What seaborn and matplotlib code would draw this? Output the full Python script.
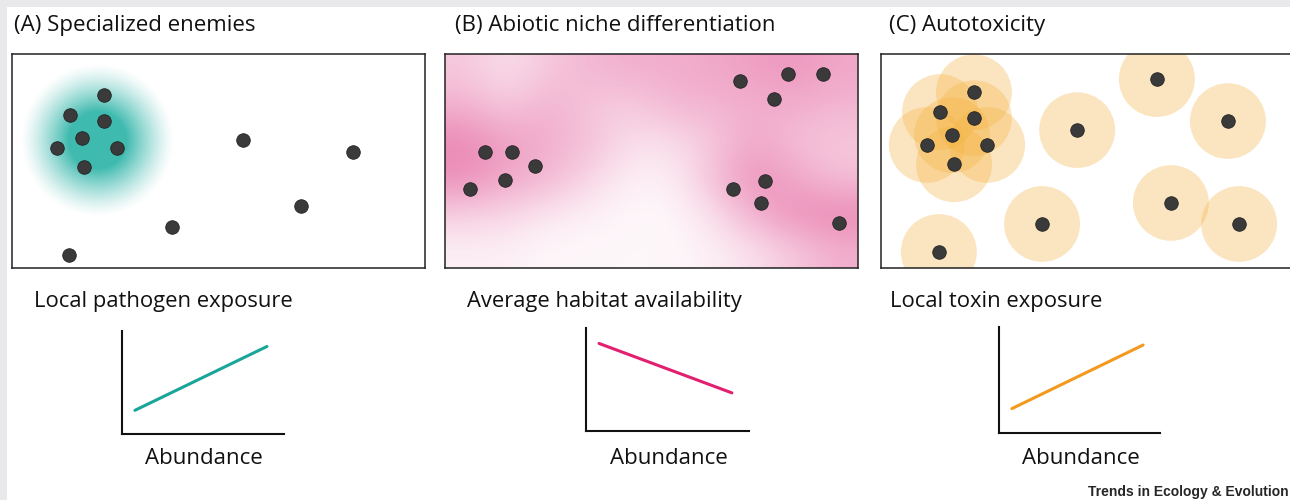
import matplotlib
matplotlib.use("Agg")
import matplotlib.pyplot as plt
from matplotlib.colors import LinearSegmentedColormap
from matplotlib.patches import Circle, Rectangle
import numpy as np
import pandas as pd
import seaborn as sns

# --- data (field units: x 0-100, y 0-52) ---
a_x = [22.3, 14.0, 22.3, 16.9, 10.9, 25.4, 17.4, 55.9, 82.6, 70.0, 38.7, 13.8]
a_y = [42.0, 37.1, 35.7, 31.6, 29.1, 29.1, 24.5, 31.1, 28.2, 15.0, 9.9, 3.2]
pathogen_center = (20.6, 31.1)
pathogen_radius = 18.6

b_x = [71.4, 83.1, 91.5, 79.7, 9.7, 16.2, 21.8, 14.5, 6.1, 69.7, 77.5, 76.5, 95.4]
b_y = [45.4, 47.1, 47.1, 41.0, 28.2, 28.2, 24.8, 21.4, 19.2, 19.2, 21.1, 15.8, 10.9]
# habitat quality (rows top->bottom, cols left->right)
habitat = [
    [0.35, 0.20, 0.35, 0.45, 0.50, 0.50, 0.55, 0.60, 0.65, 0.55],
    [0.50, 0.35, 0.50, 0.35, 0.30, 0.45, 0.45, 0.50, 0.50, 0.45],
    [0.75, 0.60, 0.50, 0.40, 0.20, 0.20, 0.35, 0.55, 0.40, 0.35],
    [0.70, 0.55, 0.45, 0.25, 0.10, 0.10, 0.40, 0.70, 0.55, 0.40],
    [0.30, 0.25, 0.15, 0.10, 0.05, 0.05, 0.20, 0.50, 0.70, 0.75],
    [0.10, 0.10, 0.05, 0.05, 0.05, 0.05, 0.10, 0.20, 0.35, 0.50],
]

c_x = [22.5, 14.3, 22.5, 17.2, 11.1, 25.7, 17.7, 47.5, 66.8, 84.0, 70.2, 86.7, 39.0, 14.0]
c_y = [42.7, 37.9, 36.4, 32.3, 29.9, 29.9, 25.2, 33.5, 45.9, 35.7, 15.8, 10.7, 10.7, 3.9]
toxin_radius = 9.2

abundance = [0.08, 0.895]
pathogen_exposure = [0.23, 0.85]
habitat_avail = [0.85, 0.37]
toxin_exposure = [0.23, 0.83]

titles = ["(A) Specialized enemies", "(B) Abiotic niche differentiation", "(C) Autotoxicity"]
ylabels = ["Local pathogen exposure", "Average habitat availability", "Local toxin exposure"]

sns.set_theme(style="white")
plt.rcParams['font.family'] = ['Open Sans', 'DejaVu Sans']

W, H = 1290, 500
fig = plt.figure(figsize=(W / 100, H / 100), dpi=100)
fig.patch.set_facecolor("#e9e9eb")
fig.patches.append(Rectangle((7 / W, 0), 1, 1 - 7 / H, transform=fig.transFigure,
                             facecolor="white", edgecolor="none", zorder=-10))


def px_axes(left, top, width, height):
    return fig.add_axes([left / W, 1 - (top + height) / H, width / W, height / H])


def field(left):
    ax = px_axes(left, 54, 413, 214)
    ax.set_xlim(0, 100)
    ax.set_ylim(0, 52)
    ax.set_xticks([])
    ax.set_yticks([])
    for s in ax.spines.values():
        s.set_color("#222222")
        s.set_linewidth(1.1)
        s.set_visible(True)
    return ax


def dots(ax, xs, ys):
    sns.scatterplot(data=pd.DataFrame({"x": xs, "y": ys}), x="x", y="y", ax=ax, s=95,
                    color="#3a3a3a", edgecolor="#222222", linewidth=0.6, zorder=5, legend=False)
    ax.set_xlabel("")
    ax.set_ylabel("")


# Panel A
ax_a = field(12)
gx, gy = np.meshgrid(np.linspace(0, 100, 400), np.linspace(52, 0, 210))
d = np.hypot(gx - pathogen_center[0], gy - pathogen_center[1]) / pathogen_radius
alpha = np.clip(1 - d, 0, 1)
alpha = np.clip(alpha * 1.6, 0, 1) ** 1.3
glow = np.zeros(d.shape + (4,))
glow[..., 0], glow[..., 1], glow[..., 2] = 0.25, 0.73, 0.69
glow[..., 3] = alpha
ax_a.imshow(glow, extent=(0, 100, 0, 52), aspect="auto", zorder=1)
dots(ax_a, a_x, a_y)
ax_a.set_xlim(0, 100)
ax_a.set_ylim(0, 52)

# Panel B
ax_b = field(445)
pink = LinearSegmentedColormap.from_list("pink", ["#ffffff", "#e4609c"])
ax_b.imshow(np.array(habitat), extent=(0, 100, 0, 52), aspect="auto", cmap=pink,
            vmin=0, vmax=1, interpolation="bicubic", zorder=1)
dots(ax_b, b_x, b_y)
ax_b.set_xlim(0, 100)
ax_b.set_ylim(0, 52)

# Panel C
ax_c = field(881)
for x, y in zip(c_x, c_y):
    ax_c.add_patch(Circle((x, y), toxin_radius, facecolor="#f5b342", alpha=0.33,
                          edgecolor="none", zorder=2))
dots(ax_c, c_x, c_y)
ax_c.set_xlim(0, 100)
ax_c.set_ylim(0, 52)

for t, x in zip(titles, [14, 455, 889]):
    fig.text(x / W, 1 - 25 / H, t, fontsize=16, va="center", ha="left", color="#111111")

# mini relationship plots
minis = [
    (122, 331, 162, 103, pathogen_exposure, "#1aa59a", 34),
    (586, 328, 163, 103, habitat_avail, "#e3206f", 467),
    (999, 327, 161, 106, toxin_exposure, "#f39a1e", 890),
]
for (l, t, w, h, yv, col, lx), lab in zip(minis, ylabels):
    ax = px_axes(l, t, w, h)
    sns.lineplot(x=abundance, y=yv, ax=ax, color=col, linewidth=2.2)
    ax.set_xlim(0, 1)
    ax.set_ylim(0, 1)
    ax.set_xticks([])
    ax.set_yticks([])
    ax.set_facecolor("none")
    for side in ["top", "right"]:
        ax.spines[side].set_visible(False)
    for side in ["left", "bottom"]:
        ax.spines[side].set_color("#111111")
        ax.spines[side].set_linewidth(1.5)
    fig.text(lx / W, 1 - 302 / H, lab, fontsize=15.8, va="center", ha="left", color="#111111")
    fig.text((l + w / 2 + 1) / W, 1 - 458 / H, "Abundance", fontsize=16,
             va="center", ha="center", color="#111111")

fig.text(1289 / W, 1 - 492 / H, "Trends in Ecology & Evolution", fontsize=10,
         fontweight="bold", ha="right", va="center",
         family=["Liberation Sans Narrow", "Liberation Sans", "DejaVu Sans"])

fig.savefig("out.png", dpi=100, facecolor=fig.get_facecolor())
